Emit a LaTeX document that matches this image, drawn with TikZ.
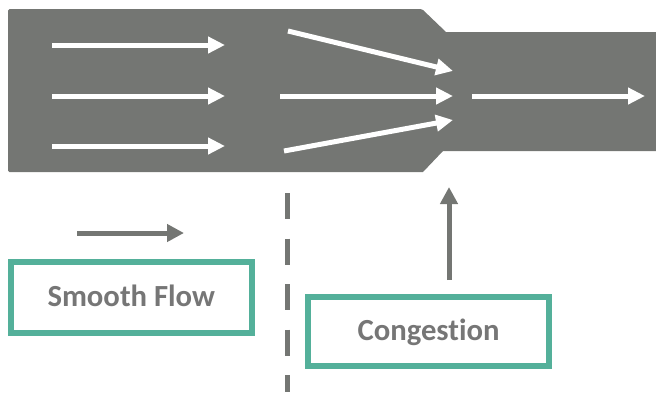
\documentclass[tikz,border=0pt]{standalone}
\usepackage{fontspec}
\setmainfont{Carlito}[Ligatures=NoCommon]
\usetikzlibrary{arrows.meta}
\definecolor{road}{RGB}{116,118,115}
\definecolor{teal}{RGB}{84,176,154}
\definecolor{txt}{RGB}{118,118,118}
\begin{document}
\begin{tikzpicture}[x=1pt,y=-1pt,
  flow/.style={white,line width=5pt,-{Triangle[length=17pt,width=16pt]}},
  grayarrow/.style={road,line width=5pt,-{Triangle[length=17pt,width=17pt]}},
  labelbox/.style={draw=teal,line width=6pt,text=txt,font=\bfseries\fontsize{30.7}{36}\selectfont,inner sep=0pt,text height=19.8pt,text depth=0pt}]
\useasboundingbox (0,0) rectangle (656,392);
% road
\fill[road,rounded corners=1.5pt] (8,9) -- (422,9) [sharp corners] -- (446,32) -- (656,32) -- (656,151) -- (443,151) -- (423,172) [rounded corners=1.5pt] -- (8,172) -- cycle;
% coordinates
\coordinate (a1s) at (52,45);  \coordinate (a1e) at (225,45);
\coordinate (a2s) at (52,96);  \coordinate (a2e) at (225,96);
\coordinate (a3s) at (52,146); \coordinate (a3e) at (225,146);
\coordinate (b1s) at (288,31); \coordinate (b1e) at (453,71);
\coordinate (b2s) at (280,96); \coordinate (b2e) at (453,96);
\coordinate (b3s) at (284,151); \coordinate (b3e) at (453,120);
\coordinate (cs) at (472,96);  \coordinate (ce) at (645,96);
\draw[flow] (a1s) -- (a1e);
\draw[flow] (a2s) -- (a2e);
\draw[flow] (a3s) -- (a3e);
\draw[flow] (b1s) -- (b1e);
\draw[flow] (b2s) -- (b2e);
\draw[flow] (b3s) -- (b3e);
\draw[flow] (cs) -- (ce);
% lower part
\coordinate (sfs) at (77,233); \coordinate (sfe) at (184,233);
\draw[grayarrow] (sfs) -- (sfe);
\coordinate (cgs) at (449,280); \coordinate (cge) at (449,187);
\draw[grayarrow] (cgs) -- (cge);
\coordinate (ds) at (287,193); \coordinate (de) at (287,392);
\draw[road,line width=5pt,dash pattern=on 26pt off 19.5pt] (ds) -- (de);
\node[labelbox,minimum width=241.5pt,minimum height=71pt] (smooth) at (131.25,297) {Smooth Flow};
\node[labelbox,minimum width=241pt,minimum height=69pt] (cong) at (428.5,331) {Congestion};
\end{tikzpicture}
\end{document}
